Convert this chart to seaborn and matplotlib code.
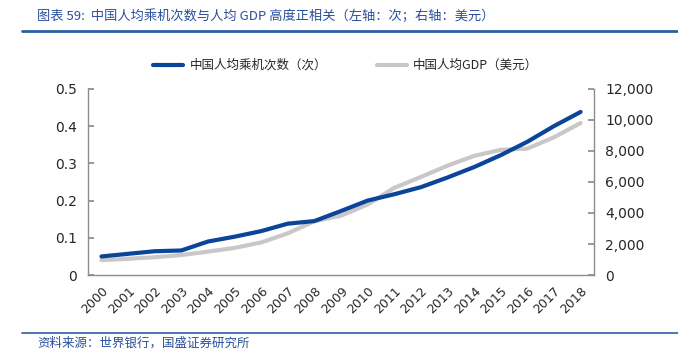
import pandas as pd
import matplotlib.pyplot as plt
import matplotlib.ticker as mticker
import seaborn as sns

# data
years = [str(y) for y in range(2000, 2019)]
trips_per_capita = [0.050, 0.057, 0.064, 0.066, 0.090, 0.103, 0.118, 0.138, 0.145,
                    0.172, 0.200, 0.217, 0.236, 0.262, 0.290, 0.322, 0.358, 0.400, 0.438]
gdp_per_capita = [960, 1050, 1150, 1290, 1510, 1750, 2100, 2690, 3470,
                  3830, 4550, 5620, 6320, 7050, 7680, 8070, 8150, 8880, 9800]

df = pd.DataFrame({'year': years, 'trips': trips_per_capita, 'gdp': gdp_per_capita})

sns.set_theme(style="white")
plt.rcParams['font.family'] = ['Noto Sans CJK SC', 'DejaVu Sans']

blue = '#0A4599'
grey = '#C8C8C8'
title_blue = '#2B4F9A'
spine_col = '#8C8C8C'

fig = plt.figure(figsize=(6.78, 3.54), dpi=100)
ax1 = fig.add_axes([0.130, 0.223, 0.746, 0.526])
ax2 = ax1.twinx()

sns.lineplot(data=df, x='year', y='gdp', color=grey, linewidth=3, ax=ax2,
             label='中国人均GDP（美元）', sort=False)
sns.lineplot(data=df, x='year', y='trips', color=blue, linewidth=3, ax=ax1,
             label='中国人均乘机次数（次）', sort=False)

ax1.set_zorder(ax2.get_zorder() + 1)
ax1.patch.set_visible(False)

ax1.set_xlim(-0.5, len(years) - 0.5)
ax1.set_ylim(0, 0.5)
ax2.set_ylim(0, 12000)
ax1.set_yticks([0, 0.1, 0.2, 0.3, 0.4, 0.5])
ax1.set_yticklabels(['0', '0.1', '0.2', '0.3', '0.4', '0.5'])
ax2.set_yticks(range(0, 12001, 2000))
ax2.yaxis.set_major_formatter(mticker.FuncFormatter(lambda v, p: f'{int(v):,}'))

ax1.set_xlabel('')
ax1.set_ylabel('')
ax2.set_ylabel('')
ax1.set_xticks(range(len(years)))
ax1.set_xticklabels(years, rotation=45, ha='right', rotation_mode='anchor')
ax1.xaxis.set_minor_locator(mticker.FixedLocator([i - 0.5 for i in range(len(years) + 1)]))
ax1.tick_params(axis='x', which='major', length=0, labelsize=9, pad=7)
ax1.tick_params(axis='x', which='minor', direction='in', length=4, color=spine_col)
ax1.tick_params(axis='y', direction='in', length=4, color=spine_col, labelsize=10, pad=8)
ax2.tick_params(axis='y', direction='in', length=4, color=spine_col, labelsize=10, pad=8)

for lab in ax1.get_xticklabels() + ax1.get_yticklabels() + ax2.get_yticklabels():
    lab.set_fontfamily('DejaVu Sans')

for ax in (ax1, ax2):
    ax.spines['top'].set_visible(False)
    for s in ('left', 'right', 'bottom'):
        ax.spines[s].set_color(spine_col)
        ax.spines[s].set_linewidth(1)
ax1.spines['right'].set_visible(False)
ax2.spines['left'].set_visible(False)
ax2.spines['bottom'].set_visible(False)

# combined legend at the top
h1, l1 = ax1.get_legend_handles_labels()
h2, l2 = ax2.get_legend_handles_labels()
ax1.get_legend().remove()
ax2.get_legend().remove()
fig.legend(h1 + h2, l1 + l2, loc='center', bbox_to_anchor=(0.51, 0.815), ncol=2,
           frameon=False, fontsize=9, handlelength=2.4, columnspacing=4, handletextpad=0.5)

# header and footer
fig.text(0.055, 0.955, '图表 59:  中国人均乘机次数与人均 GDP 高度正相关（左轴：次；右轴：美元）',
         color=title_blue, fontsize=9.5, style='italic', va='center')
fig.add_artist(plt.Line2D([0.032, 1.0], [0.913, 0.913], color='#2F5DA8', linewidth=2))
fig.add_artist(plt.Line2D([0.032, 1.0], [0.058, 0.058], color='#2F5DA8', linewidth=1.2))
fig.text(0.055, 0.030, '资料来源：世界银行，国盛证券研究所', color=title_blue, fontsize=9,
         style='italic', va='center')

fig.savefig('out.png', dpi=100)
